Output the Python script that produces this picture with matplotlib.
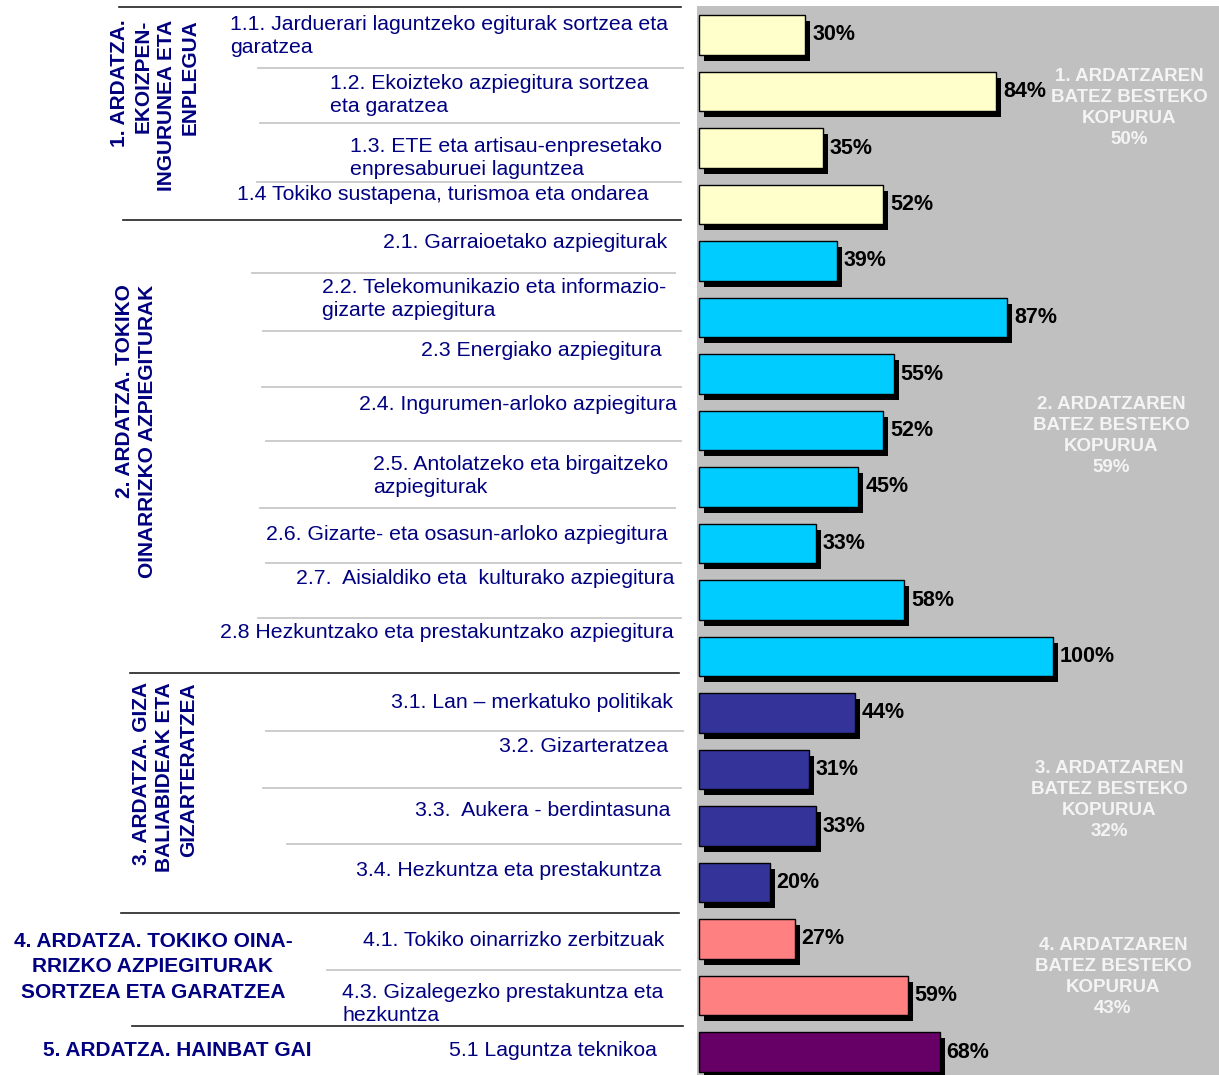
import matplotlib
matplotlib.use("Agg")
import matplotlib.pyplot as plt
from matplotlib.lines import Line2D
import numpy as np

W, H = 1219, 1075
DPI = 100

plt.rcParams["font.family"] = ["Liberation Sans", "DejaVu Sans"]

# --- data -------------------------------------------------------------------
item_labels = [
    "1.1. Jarduerari laguntzeko egiturak sortzea eta\ngaratzea",
    "1.2. Ekoizteko azpiegitura sortzea\neta garatzea",
    "1.3. ETE eta artisau-enpresetako\nenpresaburuei laguntzea",
    "1.4 Tokiko sustapena, turismoa eta ondarea",
    "2.1. Garraioetako azpiegiturak",
    "2.2. Telekomunikazio eta informazio-\ngizarte azpiegitura",
    "2.3 Energiako azpiegitura",
    "2.4. Ingurumen-arloko azpiegitura",
    "2.5. Antolatzeko eta birgaitzeko\nazpiegiturak",
    "2.6. Gizarte- eta osasun-arloko azpiegitura",
    "2.7.  Aisialdiko eta  kulturako azpiegitura",
    "2.8 Hezkuntzako eta prestakuntzako azpiegitura",
    "3.1. Lan \u2013 merkatuko politikak",
    "3.2. Gizarteratzea",
    "3.3.  Aukera - berdintasuna",
    "3.4. Hezkuntza eta prestakuntza",
    "4.1. Tokiko oinarrizko zerbitzuak",
    "4.3. Gizalegezko prestakuntza eta\nhezkuntza",
    "5.1 Laguntza teknikoa",
]
values = [30, 84, 35, 52, 39, 87, 55, 52, 45, 33, 58, 100, 44, 31, 33, 20, 27, 59, 68]
item_axis = [1, 1, 1, 1, 2, 2, 2, 2, 2, 2, 2, 2, 3, 3, 3, 3, 4, 4, 5]

axis_titles = [
    "1. ARDATZA.\nEKOIZPEN-\nINGURUNEA ETA\nENPLEGUA",
    "2. ARDATZA. TOKIKO\nOINARRIZKO AZPIEGITURAK",
    "3. ARDATZA. GIZA\nBALIABIDEAK ETA\nGIZARTERATZEA",
    "4. ARDATZA. TOKIKO OINA-\nRRIZKO AZPIEGITURAK\nSORTZEA ETA GARATZEA",
    "5. ARDATZA. HAINBAT GAI",
]
avg_axes = ["1.", "2.", "3.", "4."]
avg_values = [50, 59, 32, 43]

# --- styles / layout --------------------------------------------------------
axis_colors = {1: "#FFFFCC", 2: "#00CCFF", 3: "#333399", 4: "#FF8080", 5: "#660066"}
NAVY = "#000080"
PANEL = "#C0C0C0"

X0_PX, PX_PER_PCT = 699, 3.54      # bar origin and scale in pixels
Y0_PX, PX_PER_ROW = 35, 56.5       # first bar centre and row pitch

# left x / centre y of the item labels (pixels)
item_pos = [(230, 36), (330, 95), (350, 158), (237, 195), (383, 243),
            (322, 299), (421, 350), (359, 405), (373, 476), (266, 535),
            (296, 578), (220, 632), (391, 702), (499, 747), (415, 810),
            (356, 870), (363, 940), (342, 1004), (449, 1051)]

# (x, y, rotation) of the axis titles
title_pos = [(155, 105, 90), (136, 431, 90), (165, 777, 90), (153, 967, 0), (177, 1050, 0)]
avg_pos = [(1129, 108), (1111, 436), (1109, 800), (1113, 977)]

# separators: y, x0, x1, major?
separators = [(7, 119, 681, True), (68, 258, 683, False), (123, 260, 679, False),
              (182, 257, 681, False), (220, 123, 681, True), (273, 252, 675, False),
              (331, 263, 681, False), (387, 262, 681, False), (441, 266, 681, False),
              (508, 260, 675, False), (563, 266, 681, False), (618, 258, 681, False),
              (673, 130, 679, True), (731, 266, 683, False), (788, 263, 681, False),
              (844, 287, 681, False), (913, 121, 679, True), (970, 327, 680, False),
              (1026, 132, 683, True)]


def fx(x):
    return x / W


def fy(y):
    return 1 - y / H


fig = plt.figure(figsize=(W / DPI, H / DPI), dpi=DPI)

# grey panel with the bars
panel_left, panel_top = 697, 6
ax = fig.add_axes([fx(panel_left), 0, 1 - fx(panel_left), (H - panel_top) / H])
ax.set_facecolor(PANEL)
ax.set_xlim((panel_left - X0_PX) / PX_PER_PCT, (W - X0_PX) / PX_PER_PCT)
ax.set_ylim((H - Y0_PX) / PX_PER_ROW, (panel_top - Y0_PX) / PX_PER_ROW)
ax.set_xticks([])
ax.set_yticks([])
for s in ax.spines.values():
    s.set_visible(False)

y = np.arange(len(values))
colors = [axis_colors[a] for a in item_axis]
bar_h = 0.70
ax.barh(y + 6 / PX_PER_ROW, values, left=5 / PX_PER_PCT, height=bar_h, color="black")
ax.barh(y, values, height=bar_h, color=colors, edgecolor="black", linewidth=1.0)

for yi, v in zip(y, values):
    ax.annotate(f"{v}%", (v, yi), xytext=(5.0, 0), textcoords="offset points",
                va="center", ha="left", fontsize=15.5, fontweight="bold", color="black")

for name, avg, (x, yy) in zip(avg_axes, avg_values, avg_pos):
    fig.text(fx(x), fy(yy), f"{name} ARDATZAREN\nBATEZ BESTEKO\nKOPURUA\n{avg}%",
             ha="center", va="center", multialignment="center",
             fontsize=13.5, fontweight="bold", color="#F4F4F4", linespacing=1.3)

# separators on the left side
for yy, x0, x1, major in separators:
    fig.add_artist(Line2D([fx(x0), fx(x1)], [fy(yy), fy(yy)],
                          color="#202020" if major else "#C8C8C8",
                          lw=1.2 if major else 1.3))

# item labels
for lab, (x, yy) in zip(item_labels, item_pos):
    fig.text(fx(x), fy(yy), lab, ha="left", va="center", fontsize=15.3,
             color=NAVY, linespacing=1.3)

# axis titles
for t, (x, yy, rot) in zip(axis_titles, title_pos):
    fig.text(fx(x), fy(yy), t, ha="center", va="center", rotation=rot,
             multialignment="right" if rot else "center",
             fontsize=15, fontweight="bold", color=NAVY, linespacing=1.3 if rot else 1.45)

fig.savefig("out.png", dpi=DPI)
